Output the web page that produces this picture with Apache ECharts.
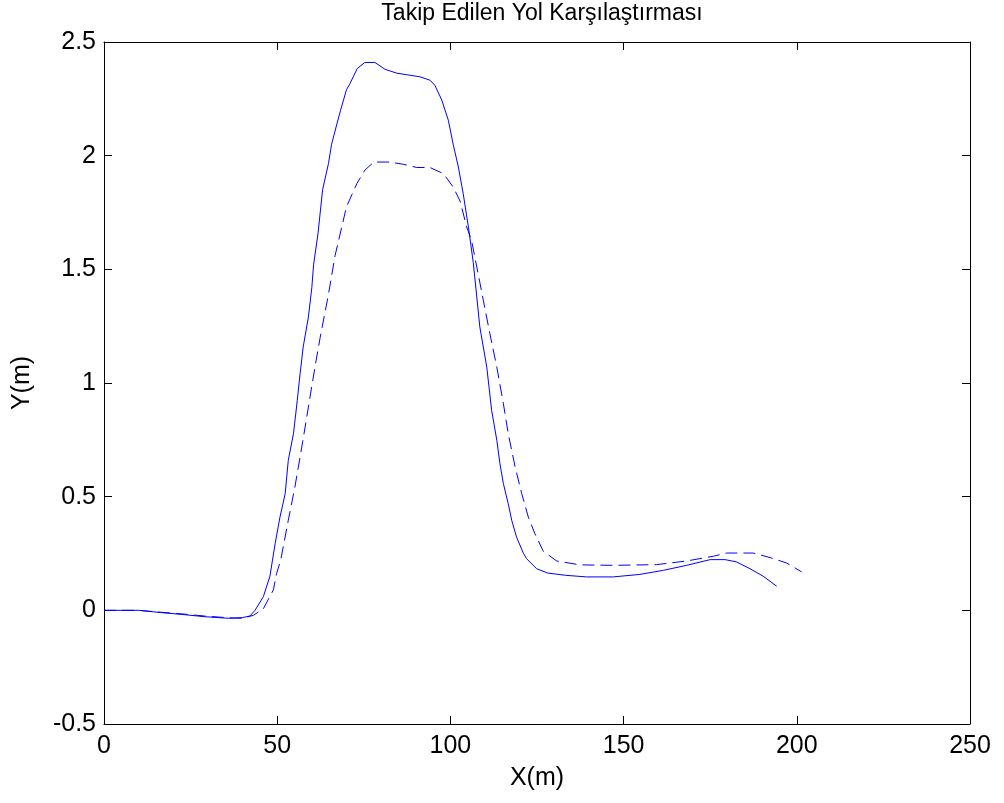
<!DOCTYPE html>
<html>
<head>
<meta charset="utf-8">
<script src="https://cdn.jsdelivr.net/npm/echarts@6/dist/echarts.min.js"></script>
<style>
html,body{margin:0;padding:0;background:#fff;}
#chart{width:1004px;height:803px;}
</style>
</head>
<body>
<div id="chart"></div>
<script>
var titleText = 'Takip Edilen Yol Karşılaştırması';
var xName = 'X(m)';
var yName = 'Y(m)';
var xTicks = [0, 50, 100, 150, 200, 250];
var yTicks = [-0.5, 0, 0.5, 1, 1.5, 2, 2.5];

var solidX = [0, 10, 10.4, 16.5, 22.5, 29, 36, 40, 42.1, 43.6, 46, 47.9, 49.4, 50.8, 52.3, 53.2, 54.7, 55.8, 56.6, 57.5, 59, 60, 60.5, 61.8, 63.1, 64.8, 65.7, 67, 68.3, 70, 71, 73.1, 75.3, 78.2, 81.1, 84.5, 87.4, 91.2, 94.1, 95.5, 97.5, 99.4, 100.8, 102.3, 103.7, 105.2, 106.6, 108.5, 110.5, 111.9, 113.4, 114.3, 115.3, 116.7, 117.7, 119.1, 121.1, 122, 124.9, 128.1, 133.3, 139.3, 147, 154.7, 161.5, 168.2, 175, 179.3, 182.6, 186.5, 190.3, 194.2];
var solidY = [0, 0, -0.005, -0.01, -0.018, -0.028, -0.035, -0.032, -0.025, 0.0, 0.06, 0.15, 0.293, 0.41, 0.513, 0.66, 0.777, 0.924, 1.04, 1.158, 1.29, 1.42, 1.52, 1.66, 1.85, 1.965, 2.05, 2.126, 2.2, 2.29, 2.317, 2.383, 2.41, 2.41, 2.38, 2.363, 2.356, 2.347, 2.332, 2.31, 2.245, 2.156, 2.05, 1.95, 1.833, 1.686, 1.53, 1.246, 1.07, 0.88, 0.748, 0.645, 0.557, 0.469, 0.396, 0.322, 0.25, 0.227, 0.183, 0.164, 0.154, 0.147, 0.147, 0.158, 0.176, 0.198, 0.223, 0.223, 0.213, 0.183, 0.15, 0.106];

var dashedX = [0, 10, 16, 22, 29, 36, 40, 43.1, 46, 48.9, 49.8, 51, 52, 53.2, 55.1, 57.1, 59, 60.9, 62.4, 64.8, 66.7, 70, 73, 75.3, 77.9, 82.6, 86.4, 90.3, 94.1, 98, 100.8, 102.8, 104.7, 106.1, 108, 109.5, 111.4, 113.4, 115.3, 116.7, 118.7, 120.6, 122.5, 124.4, 126.8, 130.7, 137.4, 147, 159.5, 168.2, 175.9, 179.7, 187.4, 192.3, 197.1, 201.4];
var dashedY = [0, 0, -0.008, -0.015, -0.025, -0.033, -0.035, -0.022, 0.007, 0.09, 0.161, 0.22, 0.3, 0.396, 0.542, 0.718, 0.894, 1.07, 1.2, 1.39, 1.56, 1.775, 1.877, 1.936, 1.972, 1.972, 1.962, 1.948, 1.948, 1.921, 1.862, 1.80, 1.686, 1.628, 1.481, 1.364, 1.217, 1.07, 0.909, 0.777, 0.63, 0.513, 0.41, 0.337, 0.26, 0.217, 0.2, 0.198, 0.201, 0.217, 0.238, 0.252, 0.252, 0.232, 0.208, 0.169];

function pairs(xs, ys) {
  var out = [];
  for (var i = 0; i < xs.length; i++) out.push([xs[i], ys[i]]);
  return out;
}

var FONT = 'Liberation Sans, Arial, sans-serif';
var xMin = xTicks[0], xMax = xTicks[xTicks.length - 1], xInt = xTicks[1] - xTicks[0];
var yMin = yTicks[0], yMax = yTicks[yTicks.length - 1], yInt = yTicks[1] - yTicks[0];

function xAxisBase(pos, showLabel) {
  return {
    type: 'value', position: pos, min: xMin, max: xMax, interval: xInt,
    axisLine: { show: true, onZero: false, lineStyle: { color: '#000', width: 1 } },
    axisTick: { show: true, inside: true, length: 8, lineStyle: { color: '#000' } },
    axisLabel: { show: showLabel, color: '#000', fontSize: 25, fontFamily: FONT, margin: 10 },
    splitLine: { show: false }
  };
}
function yAxisBase(pos, showLabel) {
  return {
    type: 'value', position: pos, min: yMin, max: yMax, interval: yInt,
    axisLine: { show: true, onZero: false, lineStyle: { color: '#000', width: 1 } },
    axisTick: { show: true, inside: true, length: 8, lineStyle: { color: '#000' } },
    axisLabel: { show: showLabel, color: '#000', fontSize: 25, fontFamily: FONT, margin: 8 },
    splitLine: { show: false }
  };
}

var xb = xAxisBase('bottom', true);
xb.name = xName; xb.nameLocation = 'middle'; xb.nameGap = 42;
xb.nameTextStyle = { color: '#000', fontSize: 25, fontFamily: FONT };
var yl = yAxisBase('left', true);
yl.name = yName; yl.nameLocation = 'middle'; yl.nameGap = 69;
yl.nameTextStyle = { color: '#000', fontSize: 25, fontFamily: FONT };

var chart = echarts.init(document.getElementById('chart'), null, { renderer: 'canvas' });
chart.setOption({
  backgroundColor: '#fff',
  animation: false,
  title: {
    text: titleText, left: 537, top: -3, textAlign: 'center',
    textStyle: { color: '#000', fontSize: 23, fontWeight: 'normal', fontFamily: FONT }
  },
  grid: { left: 104, right: 34, top: 42, bottom: 79, containLabel: false },
  xAxis: [xb, xAxisBase('top', false)],
  yAxis: [yl, yAxisBase('right', false)],
  series: [
    {
      type: 'line', xAxisIndex: 0, yAxisIndex: 0, data: pairs(solidX, solidY),
      showSymbol: false, smooth: false,
      lineStyle: { color: '#0000ff', width: 1 }
    },
    {
      type: 'line', xAxisIndex: 0, yAxisIndex: 0, data: pairs(dashedX, dashedY),
      showSymbol: false, smooth: false,
      lineStyle: { color: '#0000ff', width: 1, type: [12, 6] }
    }
  ]
});
</script>
</body>
</html>
